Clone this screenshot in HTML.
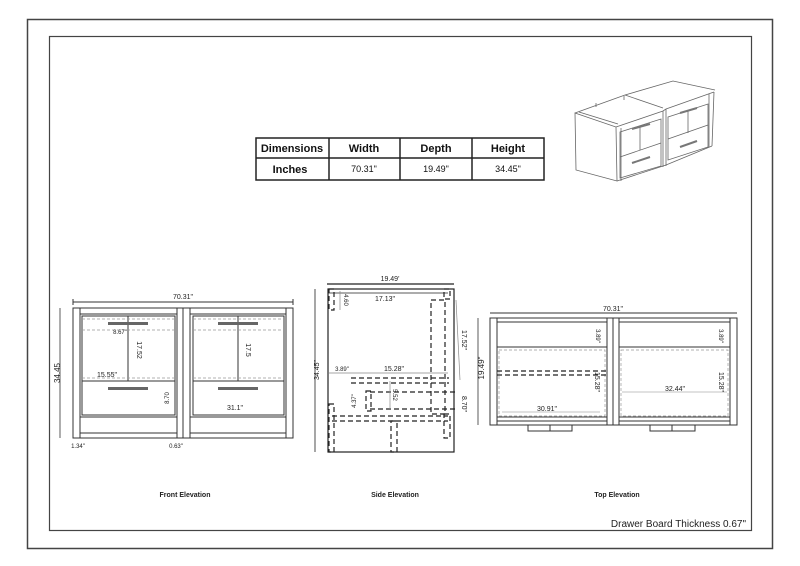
<!DOCTYPE html>
<html><head><meta charset="utf-8"><style>
html,body{margin:0;padding:0;background:#fff;}
svg{display:block;font-family:"Liberation Sans",sans-serif;}
</style></head><body>
<svg width="800" height="566" viewBox="0 0 800 566" xmlns="http://www.w3.org/2000/svg">
<rect width="800" height="566" fill="#fff"/>
<rect x="27.5" y="19.5" width="745" height="529" fill="none" stroke="#444" stroke-width="1.5"/>
<rect x="49.5" y="36.5" width="702" height="494" fill="none" stroke="#444" stroke-width="1.2"/>

<!-- table -->
<g stroke="#222" stroke-width="1.5" fill="none">
<rect x="256" y="138" width="288" height="42"/>
<line x1="256" y1="158" x2="544" y2="158"/>
<line x1="329" y1="138" x2="329" y2="180"/>
<line x1="400" y1="138" x2="400" y2="180"/>
<line x1="472" y1="138" x2="472" y2="180"/>
</g>
<g font-size="11" text-anchor="middle" fill="#111">
<text x="292" y="152" font-weight="bold">Dimensions</text>
<text x="364" y="152" font-weight="bold">Width</text>
<text x="436" y="152" font-weight="bold">Depth</text>
<text x="508" y="152" font-weight="bold">Height</text>
<text x="290" y="173" font-weight="bold">Inches</text>
<text x="364" y="172" font-size="9">70.31"</text>
<text x="436" y="172" font-size="9">19.49"</text>
<text x="508" y="172" font-size="9">34.45"</text>
</g>

<!-- iso sketch -->
<g stroke="#666" stroke-width="0.8" fill="none">
<polygon points="575,113 616,127 617,181 576,170"/>
<polyline points="575,113 625,95 673,81 715,90"/>
<line x1="625" y1="95" x2="663" y2="108"/>
<line x1="579" y1="112" x2="618" y2="124"/>
<polyline points="616,127 663,111 666,109 714,92"/>
<line x1="714" y1="92" x2="712" y2="146"/>
<polyline points="617,181 663,166 666,165 712,146"/>
<line x1="621" y1="128" x2="621" y2="181"/>
<line x1="663" y1="111" x2="663" y2="167"/>
<line x1="666" y1="109" x2="666" y2="166"/>
<line x1="709" y1="94" x2="709" y2="147"/>
<polygon points="620,132 661,119 661,166 620,178"/>
<polygon points="668,117 708,104 708,147 668,160"/>
<line x1="620" y1="157" x2="661" y2="143"/>
<line x1="668" y1="139" x2="708" y2="125"/>
<line x1="640" y1="126" x2="640" y2="150"/>
<line x1="688" y1="110" x2="688" y2="133"/>
<line x1="596" y1="103" x2="596" y2="107"/><line x1="624" y1="96" x2="624" y2="100"/>
</g>
<g stroke="#777" stroke-width="2" fill="none">
<line x1="632" y1="129" x2="650" y2="124"/><line x1="680" y1="113" x2="697" y2="108"/>
<line x1="632" y1="163" x2="650" y2="157"/><line x1="680" y1="147" x2="697" y2="141"/>
</g>

<!-- FRONT ELEVATION -->
<g stroke="#333" stroke-width="1" fill="none">
<line x1="73" y1="302" x2="293" y2="302"/>
<line x1="73" y1="299" x2="73" y2="305"/><line x1="293" y1="299" x2="293" y2="305"/>
<rect x="73" y="308" width="220" height="130"/>
<rect x="73" y="308" width="7" height="130"/>
<rect x="286" y="308" width="7" height="130"/>
<rect x="177" y="308" width="6" height="130"/>
<rect x="183" y="308" width="7" height="130"/>
<line x1="80" y1="314" x2="177" y2="314"/><line x1="190" y1="314" x2="286" y2="314"/>
<rect x="82" y="316" width="93" height="99"/>
<rect x="193" y="316" width="91" height="99"/>
<line x1="82" y1="381" x2="175" y2="381"/><line x1="193" y1="381" x2="284" y2="381"/>
<line x1="128" y1="316" x2="128" y2="381"/><line x1="238" y1="316" x2="238" y2="381"/>
<line x1="80" y1="417" x2="177" y2="417"/><line x1="190" y1="417" x2="286" y2="417"/>
<line x1="80" y1="433" x2="177" y2="433"/><line x1="190" y1="433" x2="286" y2="433"/>
</g>
<g stroke="#999" stroke-width="0.7" stroke-dasharray="3,2" fill="none">
<line x1="82" y1="319" x2="175" y2="319"/><line x1="82" y1="330" x2="175" y2="330"/>
<line x1="193" y1="319" x2="284" y2="319"/><line x1="193" y1="330" x2="284" y2="330"/>
<line x1="82" y1="378" x2="175" y2="378"/><line x1="193" y1="378" x2="284" y2="378"/>
</g>
<g fill="#666">
<rect x="108" y="322" width="40" height="3"/><rect x="218" y="322" width="40" height="3"/>
<rect x="108" y="387" width="40" height="3"/><rect x="218" y="387" width="40" height="3"/>
</g>
<line x1="60" y1="308" x2="60" y2="438" stroke="#333" stroke-width="0.8"/>
<g font-size="7" fill="#222" text-anchor="middle">
<text x="183" y="299">70.31"</text>
<text x="60" y="373" transform="rotate(-90 60 373)" font-size="8">34.45</text>
<text x="120" y="334" font-size="6">8.67"</text>
<text x="137" y="350" transform="rotate(90 137 350)">17.52</text>
<text x="246" y="350" transform="rotate(90 246 350)">17.5</text>
<text x="107" y="377">15.55"</text>
<text x="169" y="398" transform="rotate(-90 169 398)" font-size="6">8.70</text>
<text x="235" y="410">31.1"</text>
<text x="78" y="448" font-size="6">1.34"</text>
<text x="176" y="448" font-size="6">0.63"</text>
</g>

<!-- SIDE ELEVATION -->
<g stroke="#222" stroke-width="1.2" fill="none">
<line x1="327" y1="284" x2="454" y2="284"/>
<rect x="328" y="289" width="126" height="163"/>
<line x1="315" y1="289" x2="315" y2="452" stroke-width="0.8"/>
<line x1="328" y1="293" x2="448" y2="293" stroke-width="0.8"/>
</g>
<g stroke="#222" stroke-width="1.2" stroke-dasharray="5,3" fill="none">
<rect x="329" y="289" width="5" height="21"/>
<rect x="444" y="289" width="6" height="10"/>
<rect x="431" y="300" width="14" height="114"/>
<line x1="351" y1="378" x2="449" y2="378"/><line x1="351" y1="383" x2="449" y2="383"/>
<line x1="370" y1="392" x2="455" y2="392"/><line x1="370" y1="409" x2="455" y2="409"/>
<rect x="366" y="391" width="5" height="20"/>
<line x1="332" y1="416" x2="448" y2="416"/><line x1="332" y1="421" x2="448" y2="421"/>
<rect x="329" y="404" width="5" height="48"/>
<rect x="391" y="421" width="6" height="31"/>
<rect x="444" y="414" width="6" height="24"/>
</g>
<g stroke="#888" stroke-width="0.7" fill="none">
<line x1="340" y1="291" x2="340" y2="310"/>
<line x1="329" y1="373" x2="448" y2="373"/>
<line x1="390" y1="381" x2="390" y2="409"/>
<line x1="456" y1="300" x2="460" y2="380"/>
</g>
<g font-size="7" fill="#222" text-anchor="middle">
<text x="390" y="281">19.49'</text>
<text x="385" y="301">17.13"</text>
<text x="344" y="300" transform="rotate(90 344 300)" font-size="6">4.60</text>
<text x="319" y="370" transform="rotate(-90 319 370)">34.45"</text>
<text x="342" y="371" font-size="6">3.89"</text>
<text x="394" y="371">15.28"</text>
<text x="356" y="401" transform="rotate(-90 356 401)" font-size="6">4.37"</text>
<text x="393" y="395" transform="rotate(90 393 395)" font-size="6">5.52</text>
<text x="462" y="340" transform="rotate(90 462 340)">17.52"</text>
<text x="462" y="404" transform="rotate(90 462 404)">8.70"</text>
</g>

<!-- TOP ELEVATION -->
<g stroke="#333" stroke-width="1" fill="none">
<line x1="490" y1="313" x2="737" y2="313"/>
<rect x="490" y="318" width="247" height="107"/>
<rect x="490" y="318" width="7" height="107"/>
<rect x="730" y="318" width="7" height="107"/>
<rect x="607" y="318" width="6" height="107"/>
<rect x="613" y="318" width="6" height="107"/>
<line x1="497" y1="322" x2="607" y2="322"/><line x1="619" y1="322" x2="730" y2="322"/>
<line x1="497" y1="347" x2="607" y2="347"/><line x1="619" y1="347" x2="730" y2="347"/>
<line x1="497" y1="417" x2="607" y2="417"/><line x1="619" y1="417" x2="730" y2="417"/>
<line x1="497" y1="421" x2="607" y2="421"/><line x1="619" y1="421" x2="730" y2="421"/>
<polyline points="528,425 528,431 572,431 572,425"/><line x1="550" y1="425" x2="550" y2="431"/>
<polyline points="650,425 650,431 695,431 695,425"/><line x1="672" y1="425" x2="672" y2="431"/>
<line x1="478" y1="318" x2="478" y2="425" stroke-width="0.8"/>
</g>
<g stroke="#999" stroke-width="0.7" stroke-dasharray="3,2" fill="none">
<rect x="499" y="350" width="106" height="66"/><rect x="621" y="350" width="107" height="66"/>
</g>
<g stroke="#222" stroke-width="1.2" stroke-dasharray="5,3" fill="none">
<line x1="497" y1="371" x2="607" y2="371"/><line x1="497" y1="375" x2="607" y2="375"/>
</g>
<g stroke="#888" stroke-width="0.6" fill="none">
<line x1="502" y1="412" x2="600" y2="412"/><line x1="622" y1="392" x2="727" y2="392"/>
</g>
<g font-size="7" fill="#222" text-anchor="middle">
<text x="613" y="311">70.31"</text>
<text x="484" y="368" transform="rotate(-90 484 368)" font-size="8">19.49"</text>
<text x="596" y="336" transform="rotate(90 596 336)" font-size="6">3.89"</text>
<text x="719" y="336" transform="rotate(90 719 336)" font-size="6">3.89"</text>
<text x="595" y="382" transform="rotate(90 595 382)">15.28"</text>
<text x="719" y="382" transform="rotate(90 719 382)">15.28"</text>
<text x="547" y="411">30.91"</text>
<text x="675" y="391">32.44"</text>
</g>

<g font-size="7" font-weight="bold" fill="#222" text-anchor="middle">
<text x="185" y="497">Front Elevation</text>
<text x="395" y="497">Side Elevation</text>
<text x="617" y="497">Top Elevation</text>
</g>
<text x="746" y="527" font-size="10" fill="#222" text-anchor="end">Drawer Board Thickness 0.67"</text>
</svg>
</body></html>
